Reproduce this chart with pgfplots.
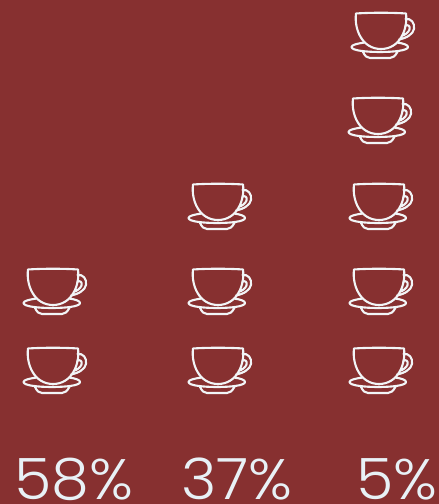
\documentclass[border=0pt]{standalone}
\usepackage{pgfplots}
\pgfplotsset{compat=1.18}
\usepackage{fontspec}
\setmainfont{Poppins Light}
\definecolor{wine}{HTML}{873030}
\definecolor{cupline}{HTML}{F2F5F7}
\definecolor{labeltext}{HTML}{E8F1F6}
\tikzset{share/.style={text=labeltext, inner sep=0pt, anchor=base, xscale=1.06, transform shape,
    font=\fontsize{57}{57}\selectfont}}

% Outline coffee cup on a saucer, origin at the centre of the bowl
\pgfdeclareplotmark{cup}{%
  \pgfsetlinewidth{2.1pt}\pgfsetroundcap\pgfsetroundjoin
  % bowl
  \pgfpathmoveto{\pgfpoint{-25pt}{20.5pt}}
  \pgfpathcurveto{\pgfpoint{-10pt}{21.5pt}}{\pgfpoint{10pt}{21.5pt}}{\pgfpoint{25pt}{20.5pt}}
  \pgfpathcurveto{\pgfpoint{27pt}{5pt}}{\pgfpoint{19pt}{-15pt}}{\pgfpoint{0pt}{-15pt}}
  \pgfpathcurveto{\pgfpoint{-19pt}{-15pt}}{\pgfpoint{-27pt}{5pt}}{\pgfpoint{-25pt}{20.5pt}}
  \pgfpathclose
  % outer handle
  \pgfpathmoveto{\pgfpoint{24.5pt}{15pt}}
  \pgfpathcurveto{\pgfpoint{30pt}{16pt}}{\pgfpoint{34pt}{11pt}}{\pgfpoint{33pt}{5pt}}
  \pgfpathcurveto{\pgfpoint{32pt}{0pt}}{\pgfpoint{26pt}{-4pt}}{\pgfpoint{18pt}{-5.5pt}}
  % inner handle
  \pgfpathmoveto{\pgfpoint{24pt}{8pt}}
  \pgfpathcurveto{\pgfpoint{27pt}{10pt}}{\pgfpoint{29.5pt}{8pt}}{\pgfpoint{28.5pt}{4.5pt}}
  \pgfpathcurveto{\pgfpoint{27.5pt}{1.5pt}}{\pgfpoint{24pt}{-1pt}}{\pgfpoint{20.5pt}{-2pt}}
  % saucer rim: open at the top where the bowl sits on it
  \pgfpathmoveto{\pgfpoint{-16pt}{-8.5pt}}
  \pgfpathcurveto{\pgfpoint{-24pt}{-9.5pt}}{\pgfpoint{-29.5pt}{-11pt}}{\pgfpoint{-29.5pt}{-13pt}}
  \pgfpathcurveto{\pgfpoint{-29.5pt}{-16.5pt}}{\pgfpoint{-15pt}{-18pt}}{\pgfpoint{-1pt}{-18pt}}
  \pgfpathcurveto{\pgfpoint{13pt}{-18pt}}{\pgfpoint{27pt}{-16.5pt}}{\pgfpoint{27pt}{-13pt}}
  \pgfpathcurveto{\pgfpoint{27pt}{-11pt}}{\pgfpoint{23pt}{-9.5pt}}{\pgfpoint{16pt}{-8.5pt}}
  % saucer foot
  \pgfpathmoveto{\pgfpoint{-18pt}{-18pt}}
  \pgfpathcurveto{\pgfpoint{-16pt}{-22pt}}{\pgfpoint{-14pt}{-24pt}}{\pgfpoint{-11pt}{-24pt}}
  \pgfpathlineto{\pgfpoint{9pt}{-24pt}}
  \pgfpathcurveto{\pgfpoint{12pt}{-24pt}}{\pgfpoint{14pt}{-22pt}}{\pgfpoint{16.5pt}{-18pt}}
  \pgfusepathqstroke
}

\begin{document}
\begin{tikzpicture}
\useasboundingbox (0,0) rectangle (439pt,504pt);
\fill[wine] (0,0) rectangle (439pt,504pt);
\begin{axis}[
  at={(0,0)}, anchor=south west,
  width=439pt, height=504pt, scale only axis,
  xmin=0, xmax=439, ymin=0, ymax=504,
  hide axis, clip=false,
]
% each column stacks its cups above the share it stands for
\addplot[only marks, mark=cup, draw=cupline, mark options={draw=cupline}] coordinates {
  (53,135) (53,214)
};
\addplot[only marks, mark=cup, draw=cupline, mark options={draw=cupline}] coordinates {
  (218,135) (218,214) (218,299)
};
\addplot[only marks, mark=cup, draw=cupline, mark options={draw=cupline}] coordinates {
  (379,135) (379,214) (379,299) (378,385) (381,470)
};
\node[share] at (axis cs:74,5) {58\%};
\node[share] at (axis cs:237,5) {37\%};
\node[share] at (axis cs:397,5) {5\%};
\end{axis}
\end{tikzpicture}
\end{document}
